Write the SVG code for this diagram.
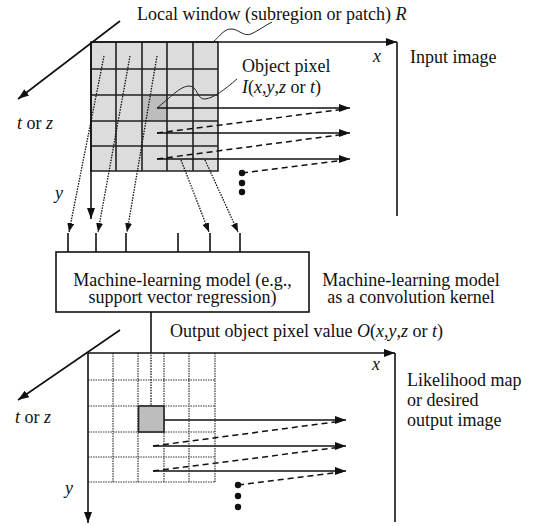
<svg xmlns="http://www.w3.org/2000/svg" width="535" height="526" viewBox="0 0 535 526">
<style>
text{font-family:"Liberation Serif","Times New Roman",serif;font-size:18px;fill:#111}
.i{font-style:italic}
.ax{stroke:#111;stroke-width:1.6;fill:none}
.sol{stroke:#111;stroke-width:1.6;fill:none}
.dash{stroke:#111;stroke-width:1.5;fill:none;stroke-dasharray:6 4}
.dot{stroke:#111;stroke-width:1.3;fill:none;stroke-dasharray:1.5 1.2}
.grid{stroke:#222;stroke-width:1.6;fill:none}
.dgrid{stroke:#333;stroke-width:1.2;fill:none;stroke-dasharray:1.5 1}
.thin{stroke:#222;stroke-width:1;fill:none}
</style>
<defs>
<marker id="ah" markerUnits="userSpaceOnUse" markerWidth="11" markerHeight="8" refX="11" refY="4" orient="auto"><path d="M0,0 L11,4 L0,8 z" fill="#111"/></marker>
<marker id="sh" markerUnits="userSpaceOnUse" markerWidth="9" markerHeight="7" refX="9" refY="3.5" orient="auto"><path d="M0,0 L9,3.5 L0,7 z" fill="#111"/></marker>
</defs>

<g id="input-image">
<rect x="91" y="42" width="127" height="129" fill="#dcdcdc"/>
<rect x="142" y="95" width="25" height="26" fill="#bdbdbd"/>
<path class="grid" d="M91,42 H218 V171 H91 Z M116,42 V171 M142,42 V171 M167,42 V171 M193,42 V171 M91,69 H218 M91,95 H218 M91,121 H218 M91,146 H218"/>
<line class="ax" x1="91" y1="42" x2="397" y2="42" marker-end="url(#ah)"/>
<line class="ax" x1="397" y1="42" x2="397" y2="216"/>
<line class="ax" x1="91" y1="42" x2="91" y2="219" marker-end="url(#ah)"/>
<line class="ax" x1="120" y1="21" x2="18" y2="99" marker-end="url(#ah)"/>
<text x="137" y="20">Local window (subregion or patch) <tspan class="i">R</tspan></text>
<path class="thin" d="M213,42 C220,36 224,29 231,29 C239,29 243,37 251,34 C258,31 264,26 272,22"/>
<text x="373" y="62" class="i">x</text>
<text x="410" y="63">Input image</text>
<text x="242" y="72">Object pixel</text>
<text x="242" y="93"><tspan class="i">I</tspan>(<tspan class="i">x</tspan>,<tspan class="i">y</tspan>,<tspan class="i">z</tspan> or <tspan class="i">t</tspan>)</text>
<path class="thin" d="M157,108 C170,98 180,86 189,86 C198,86 197,100 205,99 C214,98 224,90 237,79"/>
<text x="17" y="129"><tspan class="i">t</tspan> or <tspan class="i">z</tspan></text>
<text x="55" y="199" class="i">y</text>
<circle cx="242" cy="173" r="3.2" fill="#111"/>
<circle cx="242" cy="183" r="3.2" fill="#111"/>
<circle cx="242" cy="192" r="3.2" fill="#111"/>
</g>

<g id="connectors">
<line class="sol" x1="157" y1="108" x2="350" y2="108" marker-end="url(#ah)"/>
<line class="dash" x1="157" y1="133" x2="346" y2="109"/>
<line class="sol" x1="157" y1="133" x2="350" y2="133" marker-end="url(#ah)"/>
<line class="dash" x1="157" y1="159" x2="346" y2="134"/>
<line class="sol" x1="157" y1="159" x2="350" y2="159" marker-end="url(#ah)"/>
<line class="dash" x1="242" y1="173" x2="346" y2="160"/>
<line class="dot" x1="104" y1="56" x2="69" y2="232" marker-end="url(#sh)"/>
<line class="dot" x1="130" y1="56" x2="98" y2="232" marker-end="url(#sh)"/>
<line class="dot" x1="157" y1="56" x2="127" y2="232" marker-end="url(#sh)"/>
<line class="dot" x1="181" y1="160" x2="209" y2="232" marker-end="url(#sh)"/>
<line class="dot" x1="205" y1="160" x2="238" y2="232" marker-end="url(#sh)"/>
<path class="sol" d="M68,233 V252 M96,233 V252 M126,233 V252 M178,233 V252 M210,233 V252 M240,233 V252"/>
<line class="sol" x1="151" y1="312" x2="151" y2="352"/>
<line class="dot" x1="151" y1="352" x2="151" y2="418" marker-end="url(#sh)"/>
<line class="sol" x1="152" y1="420" x2="346" y2="420" marker-end="url(#ah)"/>
<line class="dash" x1="153" y1="446" x2="342" y2="421"/>
<line class="sol" x1="153" y1="446" x2="346" y2="446" marker-end="url(#ah)"/>
<line class="dash" x1="153" y1="471" x2="342" y2="447"/>
<line class="sol" x1="153" y1="471" x2="346" y2="471" marker-end="url(#ah)"/>
<line class="dash" x1="238" y1="485" x2="342" y2="472"/>
</g>

<g id="model">
<rect x="56" y="252" width="253" height="60" fill="#fff" stroke="#111" stroke-width="1.6"/>
<text x="182.5" y="286" text-anchor="middle">Machine-learning model (e.g.,</text>
<text x="182.5" y="303" text-anchor="middle">support vector regression)</text>
<text x="411" y="286" text-anchor="middle">Machine-learning model</text>
<text x="411" y="303" text-anchor="middle">as a convolution kernel</text>
</g>

<g id="output-image">
<text x="170" y="337">Output object pixel value <tspan class="i">O</tspan>(<tspan class="i">x</tspan>,<tspan class="i">y</tspan>,<tspan class="i">z</tspan> or <tspan class="i">t</tspan>)</text>
<path class="dgrid" d="M113,353 V482 M138,353 V482 M164,353 V482 M189,353 V482 M215,353 V482 M88,380 H215 M88,406 H215 M88,432 H215 M88,457 H215 M88,482 H215"/>
<rect x="138.5" y="406" width="25.5" height="26" fill="#bdbdbd" stroke="#222" stroke-width="1.6"/>
<line class="ax" x1="88" y1="353" x2="395" y2="353" marker-end="url(#ah)"/>
<line class="ax" x1="395" y1="353" x2="395" y2="522"/>
<line class="ax" x1="88" y1="353" x2="88" y2="523" marker-end="url(#ah)"/>
<line class="ax" x1="120" y1="330" x2="18" y2="400" marker-end="url(#ah)"/>
<text x="372" y="370" class="i">x</text>
<text x="407" y="386">Likelihood map</text>
<text x="407" y="406">or desired</text>
<text x="407" y="426">output image</text>
<text x="15" y="423"><tspan class="i">t</tspan> or <tspan class="i">z</tspan></text>
<text x="65" y="494" class="i">y</text>
<circle cx="238" cy="485" r="3.2" fill="#111"/>
<circle cx="238" cy="496" r="3.2" fill="#111"/>
<circle cx="238" cy="507" r="3.2" fill="#111"/>
</g>
</svg>
